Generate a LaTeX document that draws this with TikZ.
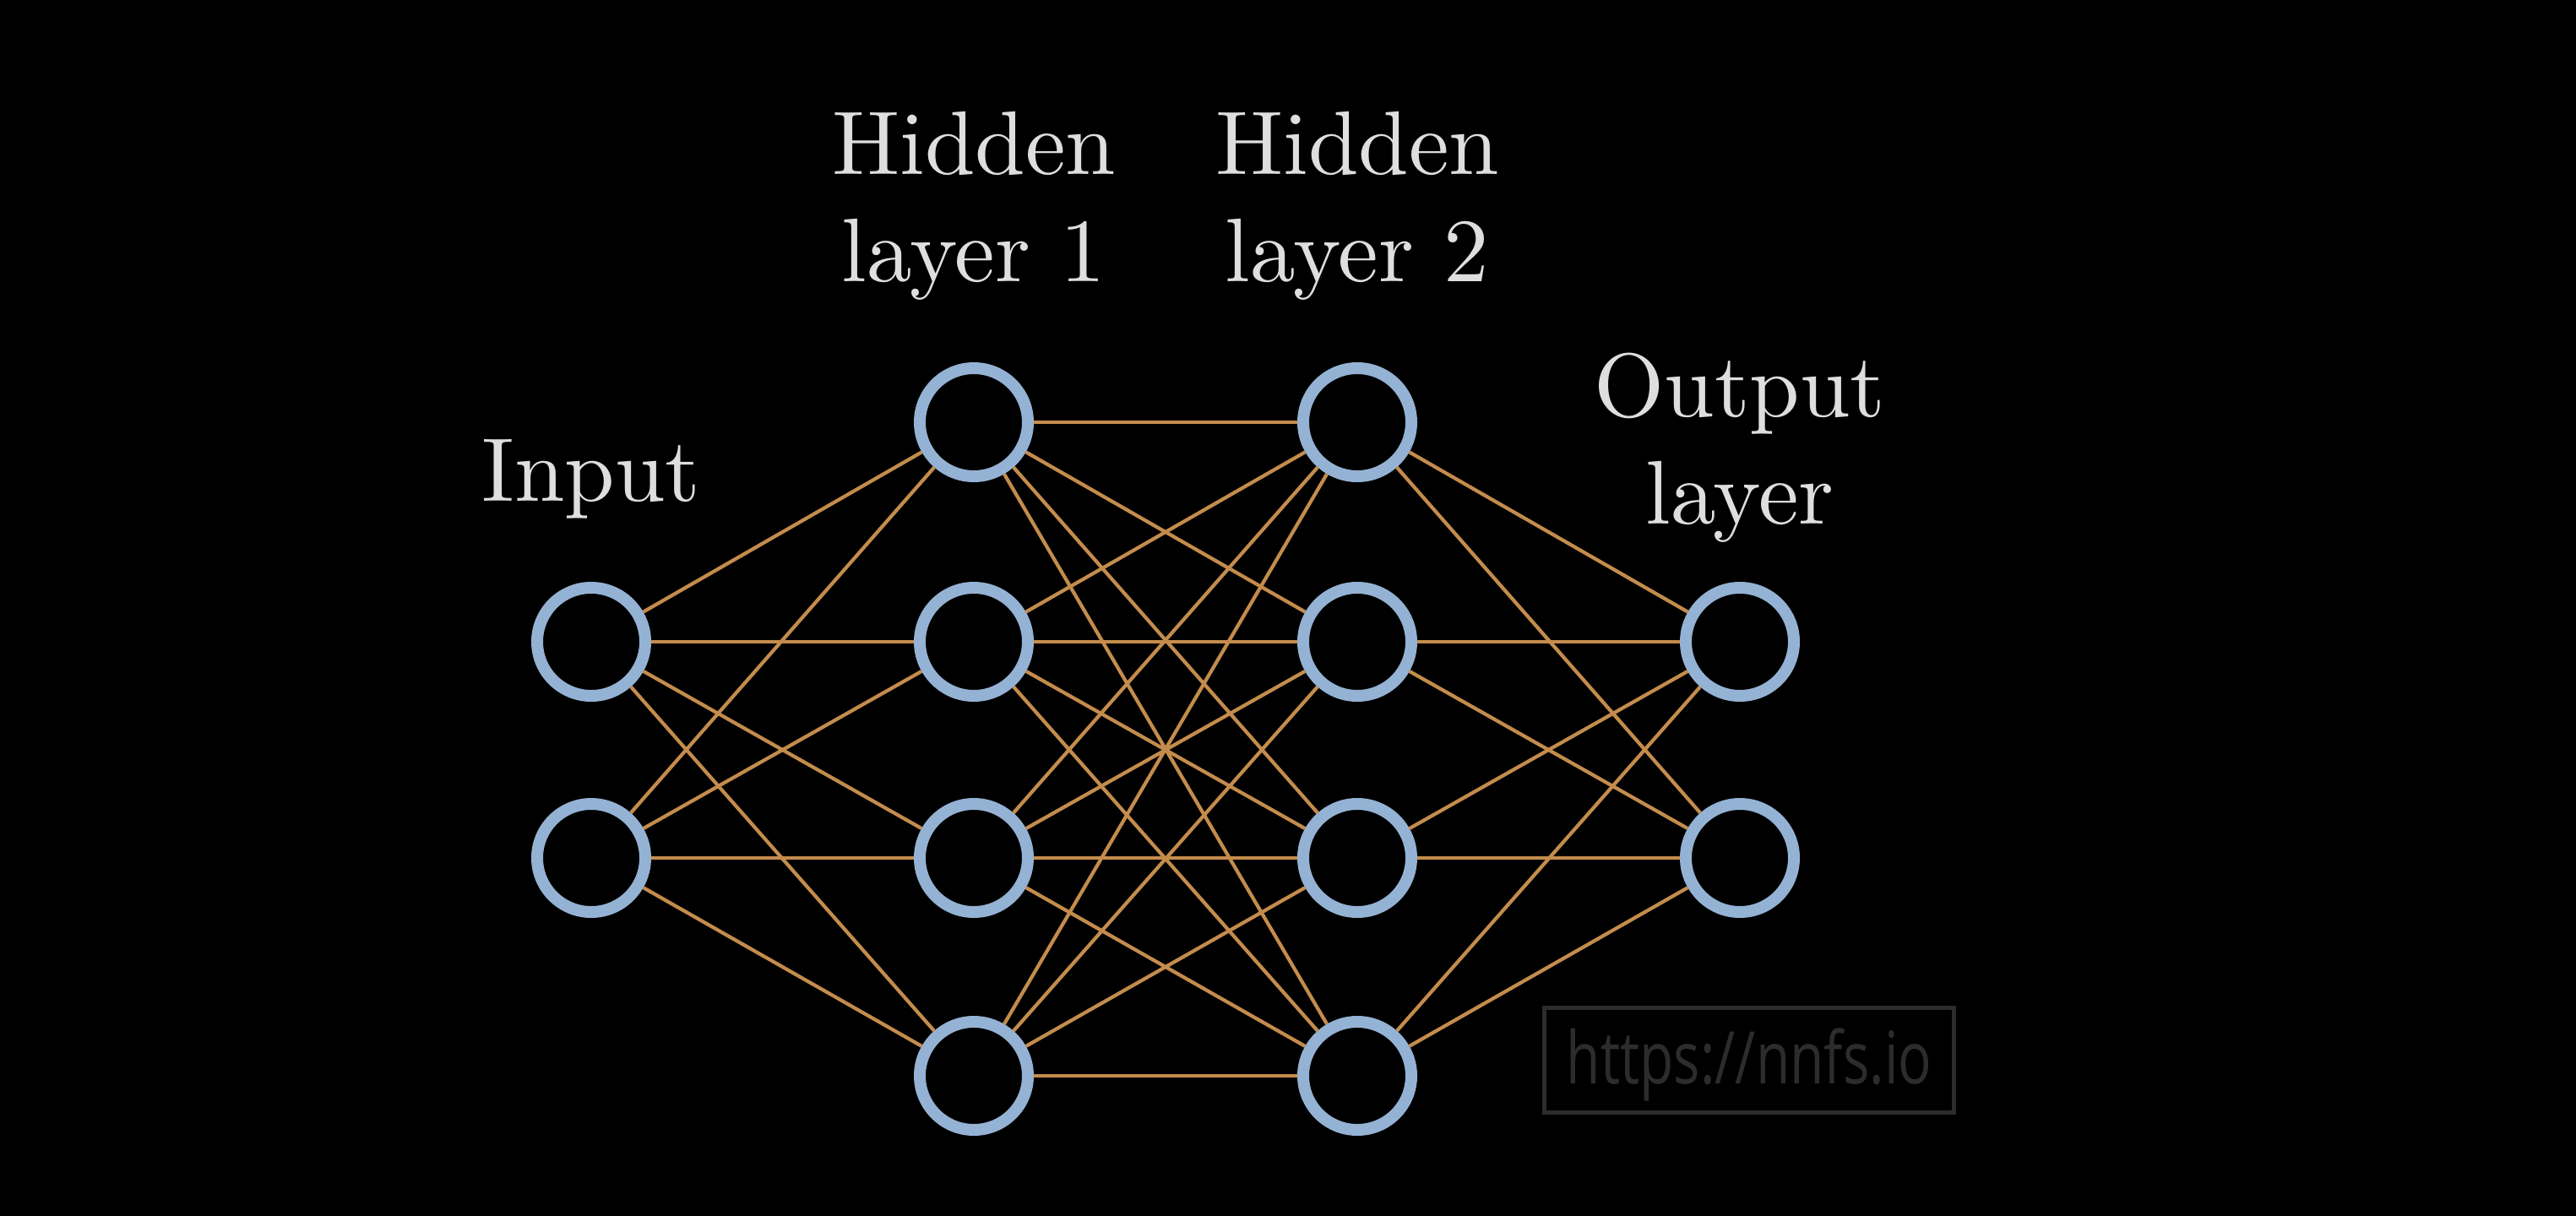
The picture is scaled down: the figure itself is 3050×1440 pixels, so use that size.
\documentclass[tikz,border=0pt]{standalone}
\usepackage{fontspec}
\newfontfamily\wmfont{Open Sans}
\newfontfamily\lmten{lmroman10-regular.otf}
\definecolor{ring}{RGB}{148,178,212}
\definecolor{edge}{RGB}{196,140,76}
\definecolor{labeltext}{RGB}{222,222,222}
\definecolor{wm}{RGB}{44,44,44}
\begin{document}
\begin{tikzpicture}[x=1pt,y=-1pt,
  neuron/.style={circle,draw=ring,line width=14pt,fill=black,minimum size=128pt,inner sep=0pt},
  conn/.style={draw=edge,line width=4.2pt},
  layerlabel/.style={text=labeltext,font=\lmten\fontsize{107}{127}\selectfont,align=center,inner sep=0pt,anchor=base}]
\fill[black] (0,0) rectangle (3050,1440);
\useasboundingbox (0,0) rectangle (3050,1440);
% neurons
\node[neuron] (i1) at (700,760) {};
\node[neuron] (i2) at (700,1016) {};
\node[neuron] (a1) at (1153,500) {};
\node[neuron] (a2) at (1153,760) {};
\node[neuron] (a3) at (1153,1016) {};
\node[neuron] (a4) at (1153,1274) {};
\node[neuron] (b1) at (1607,500) {};
\node[neuron] (b2) at (1607,760) {};
\node[neuron] (b3) at (1607,1016) {};
\node[neuron] (b4) at (1607,1274) {};
\node[neuron] (o1) at (2060,760) {};
\node[neuron] (o2) at (2060,1016) {};
% connections
\foreach \s in {i1,i2}{\foreach \t in {a1,a2,a3,a4}{\draw[conn] (\s) -- (\t);}}
\foreach \s in {a1,a2,a3,a4}{\foreach \t in {b1,b2,b3,b4}{\draw[conn] (\s) -- (\t);}}
\foreach \s in {b1,b2,b3,b4}{\foreach \t in {o1,o2}{\draw[conn] (\s) -- (\t);}}
% labels (anchor base = baseline of last line)
\node[layerlabel] (linput) at (700,593) {Input};
\node[layerlabel] (lh1) at (1153,333) {Hidden\\layer 1};
\node[layerlabel] (lh2) at (1607,333) {Hidden\\layer 2};
\node[layerlabel] (lout) at (2060,620) {Output\\layer};
% watermark
\node[draw=wm,line width=5pt,minimum width=485pt,minimum height=124pt,inner sep=0pt] (wmbox) at (2070.5,1255) {};
\node[text=wm,font=\wmfont\fontsize{86}{86}\selectfont,inner sep=0pt,anchor=base] (wmtext) at (2071,1283) {\scalebox{0.765}[1]{https://nnfs.io}};
\end{tikzpicture}
\end{document}
